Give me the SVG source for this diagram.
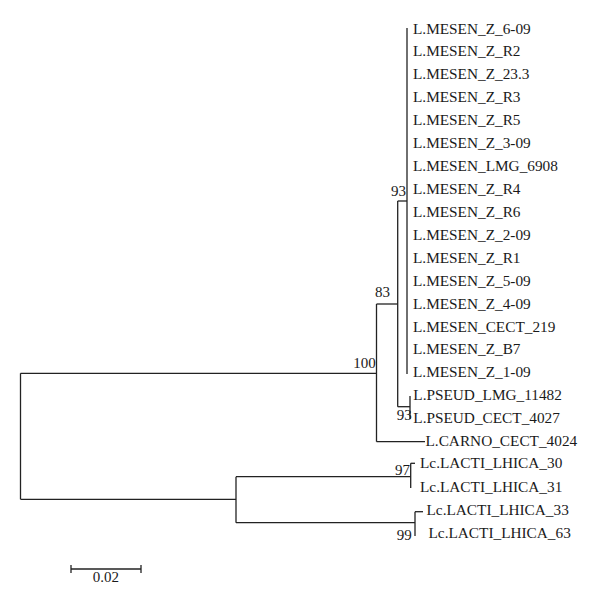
<svg xmlns="http://www.w3.org/2000/svg" width="600" height="607" viewBox="0 0 600 607">
<style>
text{font-family:"Liberation Serif","Times New Roman",serif;font-size:15.3px;fill:#1a1a1a}
.b{font-size:15px}
.e{text-anchor:end}
#connectors line{stroke:#222;stroke-width:1.3;fill:none}
</style>
<rect width="600" height="607" fill="#ffffff"/>
<g id="connectors">
<line x1="407" y1="28" x2="407" y2="374"/>
<line x1="397.7" y1="201" x2="407" y2="201"/>
<line x1="397.7" y1="201" x2="397.7" y2="406.7"/>
<line x1="397.7" y1="406.7" x2="410" y2="406.7"/>
<line x1="410" y1="396" x2="410" y2="419"/>
<line x1="376.5" y1="304" x2="397.7" y2="304"/>
<line x1="376.5" y1="304" x2="376.5" y2="441.7"/>
<line x1="376.5" y1="441.7" x2="425" y2="441.7"/>
<line x1="20.5" y1="373.3" x2="376.5" y2="373.3"/>
<line x1="20.5" y1="373.3" x2="20.5" y2="499.3"/>
<line x1="20.5" y1="499.3" x2="236" y2="499.3"/>
<line x1="236" y1="476.7" x2="236" y2="522.7"/>
<line x1="236" y1="476.7" x2="410.7" y2="476.7"/>
<line x1="410.7" y1="463.3" x2="410.7" y2="488"/>
<line x1="410.7" y1="463.3" x2="415" y2="463.3"/>
<line x1="236" y1="522.7" x2="415" y2="522.7"/>
<line x1="415" y1="511.7" x2="415" y2="536"/>
<line x1="415" y1="511.7" x2="423" y2="511.7"/>
<line x1="71" y1="569" x2="141" y2="569"/>
<line x1="71" y1="565" x2="71" y2="573"/>
<line x1="141" y1="565" x2="141" y2="573"/>
</g>
<g id="node-root"/>
<g id="node-100"><text class="b" x="353.3" y="367.5">100</text></g>
<g id="node-83"><text class="b" x="375" y="297">83</text></g>
<g id="node-93a"><text class="b e" x="406" y="196">93</text></g>
<g id="node-93b"><text class="b" x="396.7" y="419.5">93</text></g>
<g id="node-97"><text class="b" x="395" y="475">97</text></g>
<g id="node-99"><text class="b" x="396.7" y="540">99</text></g>
<g id="leaf-1"><text x="413" y="33.5">L.MESEN_Z_6-09</text></g>
<g id="leaf-2"><text x="413" y="56.4">L.MESEN_Z_R2</text></g>
<g id="leaf-3"><text x="413" y="79.3">L.MESEN_Z_23.3</text></g>
<g id="leaf-4"><text x="413" y="102.2">L.MESEN_Z_R3</text></g>
<g id="leaf-5"><text x="413" y="125.1">L.MESEN_Z_R5</text></g>
<g id="leaf-6"><text x="413" y="148">L.MESEN_Z_3-09</text></g>
<g id="leaf-7"><text x="413" y="170.9">L.MESEN_LMG_6908</text></g>
<g id="leaf-8"><text x="413" y="193.8">L.MESEN_Z_R4</text></g>
<g id="leaf-9"><text x="413" y="216.8">L.MESEN_Z_R6</text></g>
<g id="leaf-10"><text x="413" y="239.7">L.MESEN_Z_2-09</text></g>
<g id="leaf-11"><text x="413" y="262.6">L.MESEN_Z_R1</text></g>
<g id="leaf-12"><text x="413" y="285.6">L.MESEN_Z_5-09</text></g>
<g id="leaf-13"><text x="413" y="308.6">L.MESEN_Z_4-09</text></g>
<g id="leaf-14"><text x="413" y="331.5">L.MESEN_CECT_219</text></g>
<g id="leaf-15"><text x="413" y="354.4">L.MESEN_Z_B7</text></g>
<g id="leaf-16"><text x="413" y="377.4">L.MESEN_Z_1-09</text></g>
<g id="leaf-17"><text x="413.3" y="399.5">L.PSEUD_LMG_11482</text></g>
<g id="leaf-18"><text x="413.3" y="422.7">L.PSEUD_CECT_4027</text></g>
<g id="leaf-19"><text x="425.5" y="445.5">L.CARNO_CECT_4024</text></g>
<g id="leaf-20"><text x="420" y="468.3">Lc.LACTI_LHICA_30</text></g>
<g id="leaf-21"><text x="420" y="491.7">Lc.LACTI_LHICA_31</text></g>
<g id="leaf-22"><text x="426.5" y="515">Lc.LACTI_LHICA_33</text></g>
<g id="leaf-23"><text x="428.5" y="538.3">Lc.LACTI_LHICA_63</text></g>
<g id="scale"><text class="b" x="92.7" y="581.7">0.02</text></g>
</svg>
